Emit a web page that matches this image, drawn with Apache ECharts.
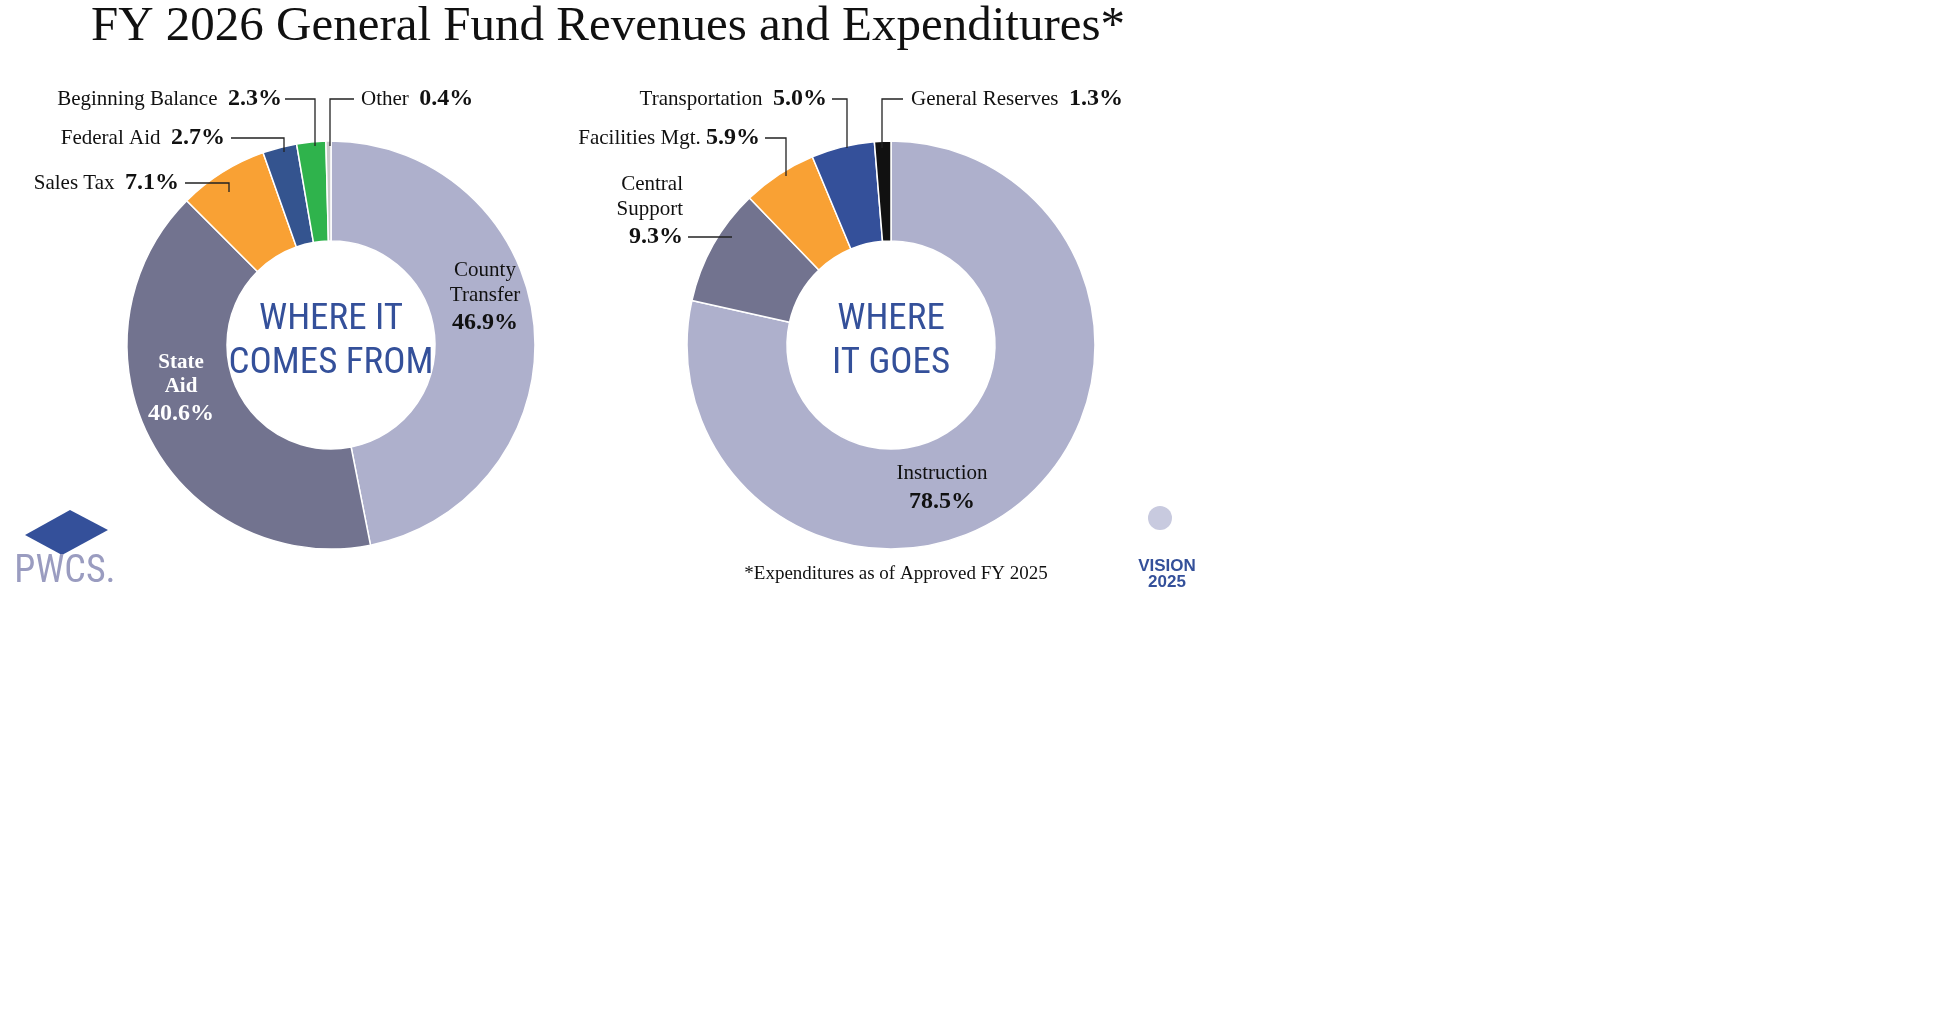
<!DOCTYPE html>
<html><head><meta charset="utf-8">
<script src="https://cdn.jsdelivr.net/npm/echarts@6/dist/echarts.min.js"></script>
<style>html,body{margin:0;background:#fff}#c{width:1939px;height:1018px}</style>
</head><body><div id="c"></div>
<script>
const revCats = ['County Transfer','State Aid','Sales Tax','Federal Aid','Beginning Balance','Other'];
const revVals = [46.9,40.6,7.1,2.7,2.3,0.4];
const expCats = ['Instruction','Central Support','Facilities Mgt.','Transportation','General Reserves'];
const expVals = [78.5,9.3,5.9,5.0,1.3];
const revColors = ['#aeb0cc','#72738f','#f9a134','#34548f','#2fb34c','#c9c9c9'];
const expColors = ['#aeb0cc','#72738f','#f9a134','#34509a','#111111'];
const SERIF = '"Liberation Serif","DejaVu Serif",serif';
const NARROW = '"Liberation Sans Narrow","Roboto Condensed","Liberation Sans",sans-serif';
const pct = v => v.toFixed(1) + '%';
const chart = echarts.init(document.getElementById('c'));
const rich = {n:{fontFamily:SERIF,fontSize:21,color:'#111'},b:{fontFamily:SERIF,fontSize:24,fontWeight:'bold',color:'#111'}};
function txt(x,y,str,align){return {type:'text',z:100,x:x,y:y,style:{text:str,align:align||'left',verticalAlign:'middle',rich:rich,font:'21px '+SERIF,fill:'#111'}};}
function line(pts){return {type:'polyline',z:100,shape:{points:pts},style:{stroke:'#222',lineWidth:1.3,fill:null}};}
function lab(cats,vals,i){return '{n|'+cats[i]+'}  {b|'+pct(vals[i])+'}';}
const pie = (center,cats,vals,colors) => ({type:'pie',radius:[104,204],center:center,startAngle:90,clockwise:true,silent:true,
  label:{show:false},labelLine:{show:false},itemStyle:{borderColor:'#fff',borderWidth:1.5},
  data:vals.map((v,i)=>({name:cats[i],value:v,itemStyle:{color:colors[i]}}))});
function block(x,y,lines,align,color,bold,lh){
  return {type:'text',z:100,x:x,y:y,style:{text:lines.join('\n'),align:align,verticalAlign:'middle',fill:color,
    rich:{n:{fontFamily:SERIF,fontSize:21,fontWeight:bold?'bold':'normal',fill:color,color:color,lineHeight:lh||25},b:{fontFamily:SERIF,fontSize:24,fontWeight:'bold',fill:color,color:color,lineHeight:30}}}};
}
chart.setOption({
  animation:false,
  title:{text:'FY 2026 General Fund Revenues and Expenditures*',left:603,top:-2,textAlign:'center',textStyle:{fontFamily:SERIF,fontSize:49,fontWeight:'normal',color:'#111'}},
  series:[pie([331,345],revCats,revVals,revColors),pie([891,345],expCats,expVals,expColors)],
  graphic:[
    txt(282,99,lab(revCats,revVals,4),'right'), line([[285,99],[315,99],[315,146]]),
    txt(361,99,lab(revCats,revVals,5),'left'), line([[330,146],[330,99],[354,99]]),
    txt(225,138,lab(revCats,revVals,3),'right'), line([[231,138],[284,138],[284,152]]),
    txt(179,183,lab(revCats,revVals,2),'right'), line([[185,183],[229,183],[229,192]]),
    block(485,298,['{n|County}','{n|Transfer}','{b|'+pct(revVals[0])+'}'],'center','#111',false),
    block(181,390,['{n|State}','{n|Aid}','{b|'+pct(revVals[1])+'}'],'center','#ffffff',true,24),
    {type:'text',z:100,x:331,y:342,style:{text:'WHERE IT\nCOMES FROM',align:'center',verticalAlign:'middle',font:'37px '+NARROW,lineHeight:44,fill:'#34509a'}},
    txt(827,99,lab(expCats,expVals,3),'right'), line([[832,99],[847,99],[847,148]]),
    txt(911,99,lab(expCats,expVals,4),'left'), line([[882,148],[882,99],[903,99]]),
    txt(760,138,'{n|Facilities Mgt.} {b|'+pct(expVals[2])+'}','right'), line([[765,138],[786,138],[786,176]]),
    block(683,212,['{n|Central}','{n|Support}','{b|'+pct(expVals[1])+'}'],'right','#111',false),
    line([[688,237],[732,237]]),
    block(942,488,['{n|Instruction}','{b|'+pct(expVals[0])+'}'],'center','#111',false,27),
    {type:'text',z:100,x:891,y:342,style:{text:'WHERE\nIT GOES',align:'center',verticalAlign:'middle',font:'37px '+NARROW,lineHeight:44,fill:'#34509a'}},
    {type:'text',z:100,x:896,y:574,style:{text:'*Expenditures as of Approved FY 2025',align:'center',verticalAlign:'middle',font:'19px '+SERIF,fill:'#111'}},
    {type:'text',z:100,x:65,y:572,style:{text:'PWCS.',align:'center',verticalAlign:'middle',font:'38px '+NARROW,fill:'#9a9cc0'}},
    {type:'polygon',shape:{points:[[25,535],[70,510],[108,530],[62,555]]},style:{fill:'#34509a'}},
    {type:'text',z:100,x:1167,y:574,style:{text:'VISION\n2025',align:'center',verticalAlign:'middle',font:'bold 17px "Liberation Sans",sans-serif',lineHeight:16,fill:'#34509a'}},
    {type:'circle',shape:{cx:1160,cy:518,r:12},style:{fill:'#c8cadf'}}
  ]
});
</script></body></html>
